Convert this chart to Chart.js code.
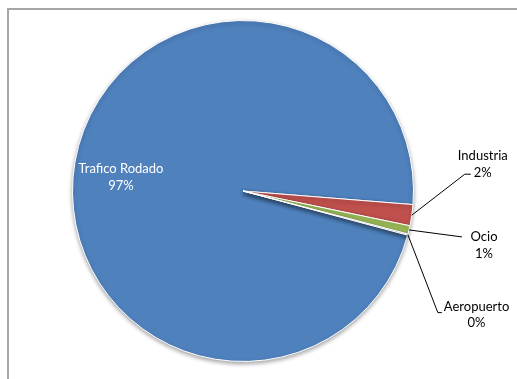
<!DOCTYPE html>
<html lang="es">
<head>
    <meta charset="UTF-8">
    <title>Fuentes de ruido</title>
    <script src="https://cdn.jsdelivr.net/npm/chart.js"></script>
    <style>
        body {
            margin: 0;
            background: #fff;
        }
        #wrap {
            width: 517px;
            height: 379px;
            position: relative;
        }
    </style>
</head>
<body>
    <div id="wrap"><canvas id="chart" width="517" height="379"></canvas></div>

    <script>
        const categories = ['Trafico Rodado', 'Industria', 'Ocio', 'Aeropuerto'];
        const values = [97.1, 2.0, 0.8, 0.1];
        const colors = ['#4F81BD', '#C0504D', '#9BBB59', '#8064A2'];

        // where each label sits, relative to the slice's outer mid point (inside label: relative to centre)
        const labelPlaces = [
            { inside: true, dx: -122, dy: -14 },
            { lead: [53, -41], tail: 6, tx: 71, ty: -51 },
            { lead: [53, 7], tail: 0, tx: 75, ty: 15 },
            { lead: [30, 78], tail: 4, tx: 35, ty: 78, left: true }
        ];

        const frame = {
            id: 'frame',
            beforeDraw(chart) {
                const c = chart.ctx;
                c.save();
                c.strokeStyle = '#a6a6a6';
                c.lineWidth = 2;
                c.beginPath();
                c.moveTo(8, 379);
                c.lineTo(8, 9);
                c.lineTo(517, 9);
                c.stroke();
                c.restore();
            }
        };

        const shadow = {
            id: 'shadow',
            beforeDatasetDraw(chart) {
                const c = chart.ctx;
                c.save();
                c.shadowColor = 'rgba(0,0,0,0.35)';
                c.shadowBlur = 4;
                c.shadowOffsetY = 2;
            },
            afterDatasetDraw(chart) {
                chart.ctx.restore();
            }
        };

        const total = values.reduce((a, b) => a + b, 0);

        const pieLabels = {
            id: 'pieLabels',
            afterDatasetsDraw(chart) {
                const c = chart.ctx;
                const arcs = chart.getDatasetMeta(0).data;
                c.save();
                c.font = '13px Lato, "Liberation Sans", sans-serif';
                c.textBaseline = 'middle';
                arcs.forEach((arc, i) => {
                    const p = labelPlaces[i];
                    const pct = Math.round(values[i] / total * 100) + '%';
                    if (p.inside) {
                        c.fillStyle = '#fff';
                        c.textAlign = 'center';
                        c.fillText(categories[i], arc.x + p.dx, arc.y + p.dy - 8);
                        c.fillText(pct, arc.x + p.dx, arc.y + p.dy + 9);
                        return;
                    }
                    const mid = (arc.startAngle + arc.endAngle) / 2;
                    const ox = arc.x + Math.cos(mid) * arc.outerRadius;
                    const oy = arc.y + Math.sin(mid) * arc.outerRadius;
                    const lx = ox + p.lead[0];
                    const ly = oy + p.lead[1];
                    c.strokeStyle = '#000';
                    c.lineWidth = 1;
                    c.beginPath();
                    c.moveTo(ox, oy);
                    c.lineTo(lx, ly);
                    c.lineTo(lx + p.tail, ly);
                    c.stroke();
                    c.fillStyle = '#000';
                    const tx = ox + p.tx;
                    const ty = oy + p.ty;
                    if (p.left) {
                        c.textAlign = 'left';
                        c.fillText(categories[i], lx + p.tail + 2, ty - 6);
                        c.textAlign = 'center';
                        c.fillText(pct, lx + p.tail + 2 + c.measureText(categories[i]).width / 2, ty + 10);
                    } else {
                        c.textAlign = 'center';
                        c.fillText(categories[i], tx, ty - 8);
                        c.fillText(pct, tx, ty + 9);
                    }
                });
                c.restore();
            }
        };

        new Chart(document.getElementById('chart'), {
            type: 'pie',
            data: {
                labels: categories,
                datasets: [{
                    data: values,
                    backgroundColor: colors,
                    borderColor: '#fff',
                    borderWidth: 1
                }]
            },
            options: {
                responsive: false,
                animation: false,
                rotation: 105,
                layout: { padding: { top: 20, bottom: 17, left: 72, right: 103 } },
                plugins: {
                    legend: { display: false },
                    tooltip: { enabled: false }
                }
            },
            plugins: [frame, shadow, pieLabels]
        });
    </script>
</body>
</html>
